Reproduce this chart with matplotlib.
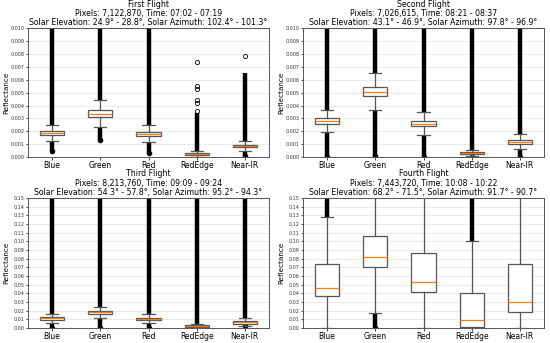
import matplotlib
matplotlib.use('Agg')
import matplotlib.pyplot as plt
from matplotlib.ticker import FormatStrFormatter
import numpy as np

bands = ['Blue', 'Green', 'Red', 'RedEdge', 'Near-IR']

titles = [
    'First Flight\nPixels: 7,122,870, Time: 07:02 - 07:19\nSolar Elevation: 24.9° - 28.8°, Solar Azimuth: 102.4° - 101.3°',
    'Second Flight\nPixels: 7,026,615, Time: 08:21 - 08:37\nSolar Elevation: 43.1° - 46.9°, Solar Azimuth: 97.8° - 96.9°',
    'Third Flight\nPixels: 8,213,760, Time: 09:09 - 09:24\nSolar Elevation: 54.3° - 57.8°, Solar Azimuth: 95.2° - 94.3°',
    'Fourth Flight\nPixels: 7,443,720, Time: 10:08 - 10:22\nSolar Elevation: 68.2° - 71.5°, Solar Azimuth: 91.7° - 90.7°',
]

# per flight, per band: whislo, q1, median, q3, whishi
f1_stats = [
    [0.00122, 0.00172, 0.00185, 0.00205, 0.00248],
    [0.00233, 0.00310, 0.00332, 0.00362, 0.00440],
    [0.00117, 0.00166, 0.00180, 0.00198, 0.00247],
    [0.00000, 0.00015, 0.00022, 0.00028, 0.00045],
    [0.00045, 0.00078, 0.00085, 0.00092, 0.00123],
]
f2_stats = [
    [0.00193, 0.00257, 0.00278, 0.00302, 0.00365],
    [0.00365, 0.00475, 0.00508, 0.00545, 0.00655],
    [0.00170, 0.00240, 0.00258, 0.00280, 0.00350],
    [0.00010, 0.00025, 0.00032, 0.00040, 0.00055],
    [0.00065, 0.00105, 0.00120, 0.00132, 0.00178],
]
f3_stats = [
    [0.0060, 0.0095, 0.0110, 0.0125, 0.0155],
    [0.0120, 0.0160, 0.0180, 0.0195, 0.0245],
    [0.0055, 0.0090, 0.0105, 0.0120, 0.0155],
    [0.0000, 0.0015, 0.0025, 0.0035, 0.0050],
    [0.0020, 0.0050, 0.0065, 0.0080, 0.0115],
]
f4_stats = [
    [0.0000, 0.0370, 0.0465, 0.0740, 0.1280],
    [0.0170, 0.0705, 0.0820, 0.1060, 0.2000],
    [0.0000, 0.0415, 0.0535, 0.0860, 0.2000],
    [0.0000, 0.0005, 0.0095, 0.0405, 0.1005],
    [0.0000, 0.0185, 0.0300, 0.0740, 0.2000],
]

# dense outlier runs (low end, high end) per band; None = no run
f1_runs_lo = [(0.00045, 0.00122), (0.0013, 0.00233), (0.00035, 0.00117), None, (0.0001, 0.00045)]
f1_runs_hi = [(0.00248, 0.02), (0.0044, 0.02), (0.00247, 0.02), (0.00045, 0.0034), (0.00123, 0.0065)]
f2_runs_lo = [(0.0, 0.00193), (0.0001, 0.00365), (0.0, 0.0017), (0.0, 0.0001), (0.0, 0.00065)]
f2_runs_hi = [(0.00365, 0.02), (0.00655, 0.02), (0.0035, 0.02), (0.00055, 0.02), (0.00178, 0.02)]
f3_runs_lo = [(0.0, 0.006), (0.0, 0.012), (0.0, 0.0055), None, (0.002, 0.002)]
f3_runs_hi = [(0.0155, 0.3), (0.0245, 0.3), (0.0155, 0.3), (0.005, 0.3), (0.0115, 0.3)]
f4_runs_lo = [None, (0.0, 0.017), None, None, None]
f4_runs_hi = [(0.128, 0.3), None, None, (0.1005, 0.3), None]

# isolated outliers
f1_points = [[], [], [], [0.0036, 0.0042, 0.0044, 0.0053, 0.0055, 0.0074], [0.0078]]
empty_points = [[], [], [], [], []]

flights = [
    (f1_stats, f1_runs_lo, f1_runs_hi, f1_points, 0.010, 0.001, '%.3f'),
    (f2_stats, f2_runs_lo, f2_runs_hi, empty_points, 0.010, 0.001, '%.3f'),
    (f3_stats, f3_runs_lo, f3_runs_hi, empty_points, 0.15, 0.01, '%.2f'),
    (f4_stats, f4_runs_lo, f4_runs_hi, empty_points, 0.15, 0.01, '%.2f'),
]

rects = [
    [0.051, 0.542, 0.438, 0.376],
    [0.551, 0.542, 0.438, 0.376],
    [0.051, 0.044, 0.438, 0.379],
    [0.551, 0.044, 0.438, 0.379],
]

fig = plt.figure(figsize=(5.5, 3.43), dpi=100)

for i, (stats, runs_lo, runs_hi, points, ymax, step, fmt) in enumerate(flights):
    ax = fig.add_axes(rects[i])
    pos = np.arange(1, len(bands) + 1)

    # outlier runs drawn first so the boxes sit on top
    for p, r in zip(pos, runs_lo):
        if r is not None:
            ax.vlines(p, r[0], r[1], color='black', linewidth=3.2, zorder=1)
            ax.plot([p], [r[0]], 'o', color='black', markersize=3, zorder=1)
    for p, r in zip(pos, runs_hi):
        if r is not None:
            ax.vlines(p, r[0], r[1], color='black', linewidth=3.2, zorder=1)
    for p, pts in zip(pos, points):
        if pts:
            ax.plot([p] * len(pts), pts, 'o', mfc='none', mec='black',
                    markersize=3, markeredgewidth=0.6, zorder=2)

    bx = []
    for s, name in zip(stats, bands):
        bx.append(dict(whislo=s[0], q1=s[1], med=s[2], q3=s[3], whishi=s[4],
                       fliers=[], label=name))
    ax.bxp(bx, positions=pos, widths=0.5, showfliers=False, patch_artist=True,
           boxprops=dict(facecolor='white', edgecolor='#555555', linewidth=0.9),
           whiskerprops=dict(color='#555555', linewidth=0.9),
           capprops=dict(color='#555555', linewidth=0.9),
           medianprops=dict(color='#ff7f0e', linewidth=0.9))

    ax.set_ylim(0, ymax)
    ax.set_xlim(0.5, 5.5)
    ax.set_yticks(np.arange(0, ymax + step / 2, step))
    ax.yaxis.set_major_formatter(FormatStrFormatter(fmt))
    ax.tick_params(axis='y', labelsize=3.5, length=1.5, width=0.5, pad=1,
                   labelcolor='#333333')
    ax.tick_params(axis='x', labelsize=5.5, length=2, width=0.5, pad=1)
    ax.grid(axis='y', color='#e6e6e6', linewidth=0.6)
    ax.set_axisbelow(True)
    for sp in ax.spines.values():
        sp.set_color('#555555')
        sp.set_linewidth(0.7)
    ax.set_ylabel('Reflectance', fontsize=5.2)
    ax.yaxis.set_label_coords(-0.076, 0.5)
    ax.set_title(titles[i], fontsize=5.6, pad=2, linespacing=1.05)

fig.savefig('out.png', dpi=100)
